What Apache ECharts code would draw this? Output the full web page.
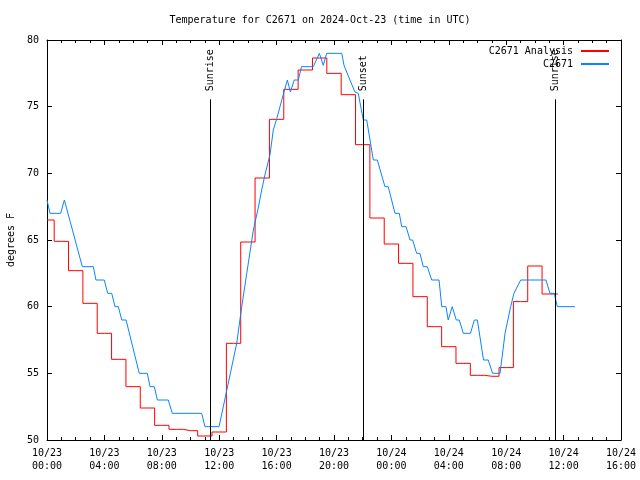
<!DOCTYPE html>
<html>
<head>
<meta charset="utf-8">
<script src="https://cdn.jsdelivr.net/npm/echarts@6/dist/echarts.min.js"></script>
<style>html,body{margin:0;padding:0;background:#fff}#c{width:640px;height:480px}</style>
</head>
<body>
<div id="c"></div>
<script>
// Hours since 2024-10-23 00:00 UTC
const analysisHours = [0,1,2,3,4,5,6,7,8,9,10,11,12,13,14,15,16,17,18,19,20,21,22,23,24,25,26,27,28,29,30,31,32,33,34,35,35.6];
const analysisTemps = [66.5,64.9,62.7,60.25,58.0,56.05,54.0,52.4,51.1,50.8,50.7,50.3,50.6,57.25,64.85,69.65,74.05,76.3,77.75,78.65,77.5,75.9,72.15,66.65,64.7,63.25,60.75,58.5,57.0,55.75,54.85,54.78,55.43,60.38,63.05,60.95,60.95];

const obsHours = [0,0.21,0.95,1.21,2.46,3.23,3.41,3.99,4.23,4.51,4.74,4.97,5.21,5.51,6.43,6.99,7.18,7.48,7.69,8.45,8.73,10.78,11.01,11.99,13.22,13.57,13.92,14.38,14.72,14.96,15.19,15.54,15.77,16.01,16.36,16.75,16.96,17.23,17.51,17.74,18.56,18.98,19.25,19.49,20.54,20.70,21.11,21.46,21.69,22.04,22.28,22.74,23.02,23.55,23.78,24.25,24.55,24.72,25.02,25.30,25.48,25.76,25.99,26.22,26.50,26.81,27.32,27.51,27.80,27.96,28.24,28.52,28.73,29.01,29.51,29.78,29.99,30.42,30.75,31.05,31.57,31.92,32.03,32.31,32.54,33.01,34.77,35.05,35.35,35.56,36.79];
const obsTemps = [68,67,67,68,63,63,62,62,61,61,60,60,59,59,55,55,54,54,53,53,52,52,51,51,57.25,60,62.5,65.75,67.4,68.75,69.9,71.4,73.25,74.1,75.5,77,76.1,77,77,78,78,79,78.1,79,79,78.1,77,76.1,76,74,74,71,71,69,69,67,67,66,66,65,65,64,64,63,63,62,62,60,60,59,60,59,59,58,58,59,59,56,56,55,55,58,58,60,61,62,62,61,61,60,60];

const sunEvents = ['Sunrise','Sunset','Sunrise'];
const sunHours = [11.36, 22.03, 35.42];
const sunLineTop = 75.55;

const seriesNames = ['C2671 Analysis','C2671'];
const titleText = 'Temperature for C2671 on 2024-Oct-23 (time in UTC)';
const yName = 'degrees F';

const FONT = 'DejaVu Sans Mono';
function pad(n){return (n<10?'0':'')+n;}
function fmtX(v){
  const d = 23 + Math.floor(v/24);
  const h = v % 24;
  return '10/' + d + '\n' + pad(h) + ':00';
}

const chart = echarts.init(document.getElementById('c'), null, {renderer:'canvas'});
const baseX = {type:'value', min:0, max:40, interval:4, gridIndex:0,
  splitLine:{show:false},
  axisLine:{show:true, onZero:false, lineStyle:{color:'#000', width:1}},
  axisTick:{show:true, inside:true, length:5, lineStyle:{color:'#000'}},
  minorTick:{show:true, splitNumber:4, length:3, lineStyle:{color:'#000'}},
};
const baseY = {type:'value', min:50, max:80, interval:5, gridIndex:0,
  splitLine:{show:false},
  axisLine:{show:true, onZero:false, lineStyle:{color:'#000', width:1}},
  axisTick:{show:true, inside:true, length:5, lineStyle:{color:'#000'}},
};
chart.setOption({
  animation:false,
  backgroundColor:'#fff',
  title:{text:titleText, left:'center', top:10, textStyle:{fontFamily:FONT, fontSize:10, fontWeight:'normal', color:'#000'}},
  legend:{data:seriesNames, orient:'vertical', align:'right', right:25, top:41, itemWidth:28, itemHeight:10, itemGap:3,
    itemStyle:{opacity:0},
    textStyle:{fontFamily:FONT, fontSize:10, color:'#000', padding:[0,3,0,0]}},
  grid:{left:47, right:19, top:40, bottom:40, containLabel:false, outerBoundsMode:'none'},
  xAxis:[
    Object.assign({}, baseX, {position:'bottom',
      axisLabel:{formatter:fmtX, fontFamily:FONT, fontSize:10, color:'#000', margin:7, lineHeight:13}}),
    Object.assign({}, baseX, {position:'top', axisLabel:{show:false}})
  ],
  yAxis:[
    Object.assign({}, baseY, {position:'left', name:yName, nameLocation:'middle', nameGap:31, nameRotate:90,
      nameTextStyle:{fontFamily:FONT, fontSize:10, color:'#000'},
      axisLabel:{fontFamily:FONT, fontSize:10, color:'#000', margin:8}}),
    Object.assign({}, baseY, {position:'right', axisLabel:{show:false}})
  ],
  series:[
    {name:seriesNames[0], type:'line', step:'middle', symbol:'none', xAxisIndex:0, yAxisIndex:0,
      data:analysisHours.map((h,i)=>[h, analysisTemps[i]]),
      lineStyle:{color:'#ff0000', width:1}, itemStyle:{color:'#ff0000'},
      markLine:{silent:true, symbol:['none','none'], animation:false,
        lineStyle:{color:'#000', width:1, type:'solid'},
        label:{show:true, position:'insideEndTop', distance:[-8,0], align:'left', verticalAlign:'middle',
          formatter:p=>p.name, fontFamily:FONT, fontSize:10, color:'#000'},
        data: sunHours.map((t,i)=>[{name:sunEvents[i], coord:[t,50]},{coord:[t,sunLineTop]}])
      }
    },
    {name:seriesNames[1], type:'line', symbol:'none', xAxisIndex:0, yAxisIndex:0,
      data:obsHours.map((h,i)=>[h, obsTemps[i]]),
      lineStyle:{color:'#0a84ff', width:1}, itemStyle:{color:'#0a84ff'}}
  ]
});
</script>
</body>
</html>
